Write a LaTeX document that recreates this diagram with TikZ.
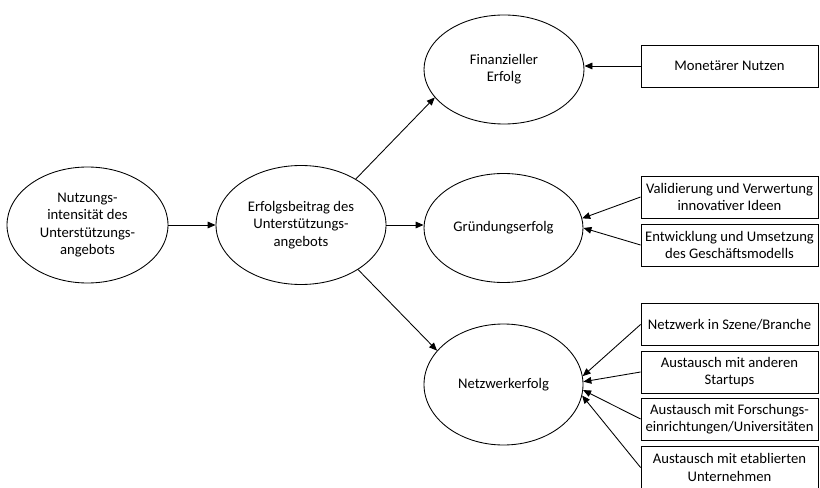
\documentclass[tikz,border=0pt]{standalone}
\usepackage{fontspec}
\setmainfont{Carlito}
\usetikzlibrary{shapes,arrows.meta,calc}

\begin{document}
\begin{tikzpicture}[x=0.75pt,y=-0.75pt]
      \tikzset{construct/.style 2 args={draw,
          ellipse,
          line width=0.65pt,
          inner sep=0pt,
          align=center,
          minimum width=#1,
          minimum height=#2,
          font=\fontsize{11pt}{13pt}\selectfont},
        indicator/.style={draw,
          rectangle,
          line width=0.65pt,
          inner sep=0pt,
          align=center,
          minimum width=132.75pt,
          minimum height=31.5pt,
          font=\fontsize{11pt}{13pt}\selectfont},
        effect/.style={line width=0.65pt,-{Triangle[length=6pt,width=5pt]}}
      }
      \useasboundingbox (0,0) rectangle (820,488);
      % latent constructs
      \node [construct={120.75pt}{87pt}] (nutz) at (87.5,225) {Nutzungs-\\intensität des\\Unterstützungs-\\angebots};
      \node [construct={127.5pt}{89.25pt}] (beitrag) at (301,225) {Erfolgsbeitrag des\\Unterstützungs-\\angebots};
      \node [construct={120pt}{81.75pt}] (fin) at (504,69.5) {Finanzieller\\Erfolg};
      \node [construct={119.25pt}{81.75pt}] (gruend) at (503.5,228) {Gründungserfolg};
      \node [construct={119.25pt}{90.75pt}] (netz) at (503.5,384.5) {Netzwerkerfolg};

      % indicators
      \node [indicator] (monetaer) at (729.5,66) {Monetärer Nutzen};
      \node [indicator] (valid) at (729.5,197) {Validierung und Verwertung\\innovativer Ideen};
      \node [indicator] (entw) at (729.5,245) {Entwicklung und Umsetzung\\des Geschäftsmodells};
      \node [indicator] (szene) at (729.5,324.5) {Netzwerk in Szene/Branche};
      \node [indicator] (startups) at (729.5,372) {Austausch mit anderen\\Startups};
      \node [indicator] (forsch) at (729.5,419) {Austausch mit Forschungs-\\einrichtungen/Universitäten};
      \node [indicator] (untern) at (729.5,467.5) {Austausch mit etablierten\\Unternehmen};

      \draw [effect] (nutz.east)--(nutz.east -| beitrag.west);
      \draw [effect] (beitrag.40)--(fin.202);
      \draw [effect] (beitrag.east)--(beitrag.east -| gruend.west);
      \draw [effect] (beitrag.-38)--(netz.153);

      \draw [effect] (monetaer.west)--(monetaer.west -| fin.east);
      \draw [effect] (valid.west)--(gruend.7);
      \draw [effect] (entw.west)--(gruend.0);
      \draw [effect] (szene.west)--(netz.6);
      \draw [effect] (startups.west)--(netz.2);
      \draw [effect] (forsch.west)--(netz.-4);
      \draw [effect] (untern.west)--(netz.-8);

    \end{tikzpicture}
\end{document}
